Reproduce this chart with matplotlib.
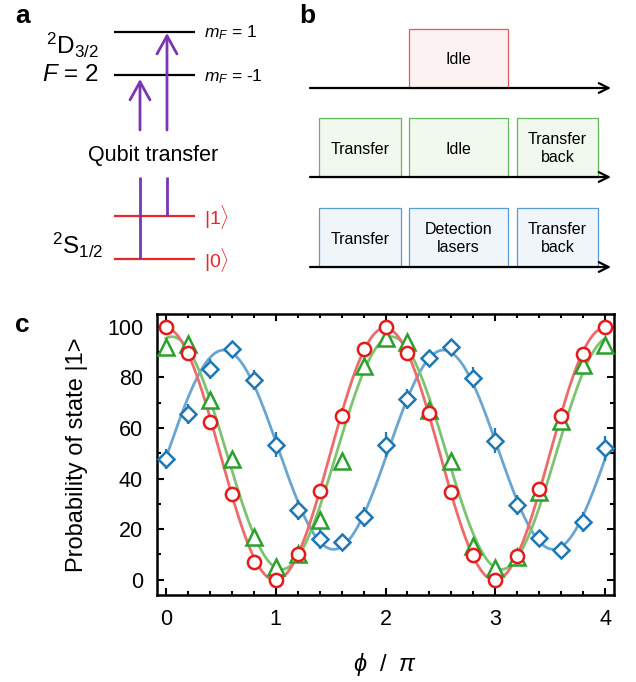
import numpy as np
import matplotlib
matplotlib.use('Agg')
import matplotlib.pyplot as plt
from matplotlib.patches import Rectangle
from matplotlib.ticker import MultipleLocator

plt.rcParams['font.family'] = ['Liberation Sans', 'DejaVu Sans']
plt.rcParams['mathtext.fontset'] = 'custom'
plt.rcParams['mathtext.rm'] = 'Liberation Sans'
plt.rcParams['mathtext.it'] = 'Liberation Sans:italic'
plt.rcParams['mathtext.bf'] = 'Liberation Sans:bold'

# phase (units of pi) and measured probabilities of |1> (%)
phase = [0.0, 0.2, 0.4, 0.6, 0.8, 1.0, 1.2, 1.4, 1.6, 1.8, 2.0,
         2.2, 2.4, 2.6, 2.8, 3.0, 3.2, 3.4, 3.6, 3.8, 4.0]
p_red = [100, 89.5, 62.5, 33.8, 7.2, 0.0, 10.2, 35.0, 64.8, 91.2, 100,
         89.5, 66.0, 34.5, 9.8, 0.0, 9.6, 35.8, 64.8, 89.2, 99.9]
p_green = [92.0, 93.2, 71.2, 47.6, 16.8, 5.2, 10.0, 23.8, 46.8, 84.6, 95.4,
           94.0, 67.0, 46.8, 13.4, 4.8, 9.0, 34.8, 62.6, 85.0, 92.8]
p_blue = [47.8, 65.5, 83.4, 91.2, 79.0, 53.4, 27.7, 16.1, 15.1, 24.8, 53.4,
          71.4, 87.6, 91.8, 79.9, 54.9, 29.6, 16.5, 11.9, 22.8, 52.0]
err_red = [1.5, 2, 2.5, 3, 2, 1, 2, 3, 3, 2, 1, 2, 3, 3, 2, 1, 2, 3, 3, 2, 1.5]
err_green = [2, 2, 3, 3, 3, 2, 2, 3, 3, 2, 2, 2, 3, 3, 3, 2, 2, 3, 3, 2, 2]
err_blue = [4, 4, 4, 3, 4, 5, 4, 4, 3, 4, 5, 4, 3, 3, 4, 5, 4, 3, 3, 4, 5]

# panel b rows: (box labels, edge colour, face colour)
row_labels = [['Idle'],
              ['Transfer', 'Idle', 'Transfer\nback'],
              ['Transfer', 'Detection\nlasers', 'Transfer\nback']]
row_edges = ['#e8595b', '#62b85a', '#5a9bd0']
row_faces = ['#fdf2f2', '#f1f8ee', '#f0f5fa']

purple = '#7a35b3'
red = '#e8262b'

fig = plt.figure(figsize=(6.36, 6.82), dpi=100)

# overlay axes in pixel coordinates for the schematic panels
ax0 = fig.add_axes([0, 0, 1, 1])
ax0.set_xlim(0, 636)
ax0.set_ylim(682, 0)
ax0.axis('off')

ax0.text(15, 16, 'a', fontsize=19, fontweight='bold', va='center')
ax0.text(299, 16, 'b', fontsize=19, fontweight='bold', va='center')
ax0.text(15, 325, 'c', fontsize=19, fontweight='bold', va='center')

# ---- panel a: level scheme
for y in [32, 75]:
    ax0.plot([114, 195], [y, y], color='black', lw=1.6, solid_capstyle='butt')
for y in [216, 259]:
    ax0.plot([114, 195], [y, y], color=red, lw=1.6, solid_capstyle='butt')
ax0.text(99, 45, r'$^{2}\mathrm{D}_{3/2}$', fontsize=17.5, ha='right', va='center')
ax0.text(99, 75, r'$F$ = 2', fontsize=17.5, ha='right', va='center')
ax0.text(104, 245, r'$^{2}\mathrm{S}_{1/2}$', fontsize=17.5, ha='right', va='center')
ax0.text(204, 33, r'$m_F$ = 1', fontsize=12.5, va='center')
ax0.text(204, 77, r'$m_F$ = -1', fontsize=12.5, va='center')
ax0.text(204, 217, r'$|1\rangle$', fontsize=14, color=red, va='center')
ax0.text(204, 260, r'$|0\rangle$', fontsize=14, color=red, va='center')
ax0.text(153, 155, 'Qubit transfer', fontsize=15.5, ha='center', va='center')

for x, y0, y1 in [(140, 259, 79), (167, 216, 33)]:
    ax0.plot([x, x], [y0, 177], color=purple, lw=2, solid_capstyle='butt')
    ax0.annotate('', xy=(x, y1), xytext=(x, 130),
                 arrowprops=dict(arrowstyle='->,head_length=0.65,head_width=0.36',
                                 color=purple, lw=2, shrinkA=0, shrinkB=0,
                                 mutation_scale=20))

# ---- panel b: pulse sequences
row_y = [88, 177, 267]
box_x = [(319, 401), (409, 508), (517, 598)]
for i, labels in enumerate(row_labels):
    yb = row_y[i]
    slots = [box_x[1]] if len(labels) == 1 else box_x
    for (x0, x1), lab in zip(slots, labels):
        ax0.add_patch(Rectangle((x0, yb - 59), x1 - x0, 59, facecolor=row_faces[i],
                                edgecolor=row_edges[i], lw=0.9))
        ax0.text((x0 + x1) / 2, yb - 28, lab, fontsize=11.5, ha='center',
                 va='center', linespacing=1.25)
    ax0.annotate('', xy=(611, yb), xytext=(310, yb),
                 arrowprops=dict(arrowstyle='->,head_length=0.5,head_width=0.25',
                                 color='black', lw=1.6, shrinkA=0, shrinkB=0,
                                 mutation_scale=14))

# ---- panel c: phase scans
ax = fig.add_axes([157 / 636, 1 - 595 / 682, 457 / 636, 281 / 682])
xs = np.array(phase)
xf = np.linspace(0, 4, 400)
series = [(p_blue, err_blue, '#1f77b4', '#6aa6d2', 'D', 8.5),
          (p_green, err_green, '#2ca02c', '#7cc46f', '^', 11),
          (p_red, err_red, '#e41a1c', '#ee6b6b', 'o', 9.5)]
for vals, err, mc, lc, mk, ms in series:
    vals = np.array(vals)
    # least-squares sinusoid fit to the data
    A = np.column_stack([np.ones_like(xs), np.cos(np.pi * xs), np.sin(np.pi * xs)])
    coef = np.linalg.lstsq(A, vals, rcond=None)[0]
    fit = coef[0] + coef[1] * np.cos(np.pi * xf) + coef[2] * np.sin(np.pi * xf)
    ax.plot(xf, fit, color=lc, lw=2, zorder=2)
for vals, err, mc, lc, mk, ms in series:
    ax.errorbar(xs, vals, yerr=err, fmt='none', ecolor=mc, elinewidth=1.6,
                capsize=0, zorder=3)
    ax.plot(xs, vals, mk, ms=ms, mfc='white', mec=mc, mew=1.8, zorder=4)

ax.set_xlim(-0.08, 4.08)
ax.set_ylim(-6, 105)
ax.xaxis.set_major_locator(MultipleLocator(1))
ax.xaxis.set_minor_locator(MultipleLocator(0.2))
ax.yaxis.set_major_locator(MultipleLocator(20))
ax.yaxis.set_minor_locator(MultipleLocator(10))
ax.tick_params(which='both', direction='in', top=True, right=True, labelsize=15.5, width=1.5)
ax.tick_params(which='major', length=5, pad=10)
ax.tick_params(which='minor', length=3)
for s in ax.spines.values():
    s.set_linewidth(1.8)
ax.set_xlabel(r'$\phi$  /  $\pi$', fontsize=17, labelpad=15)
ax.set_ylabel('Probability of state |1>', fontsize=17, labelpad=14)

fig.savefig('out.png', dpi=100)
